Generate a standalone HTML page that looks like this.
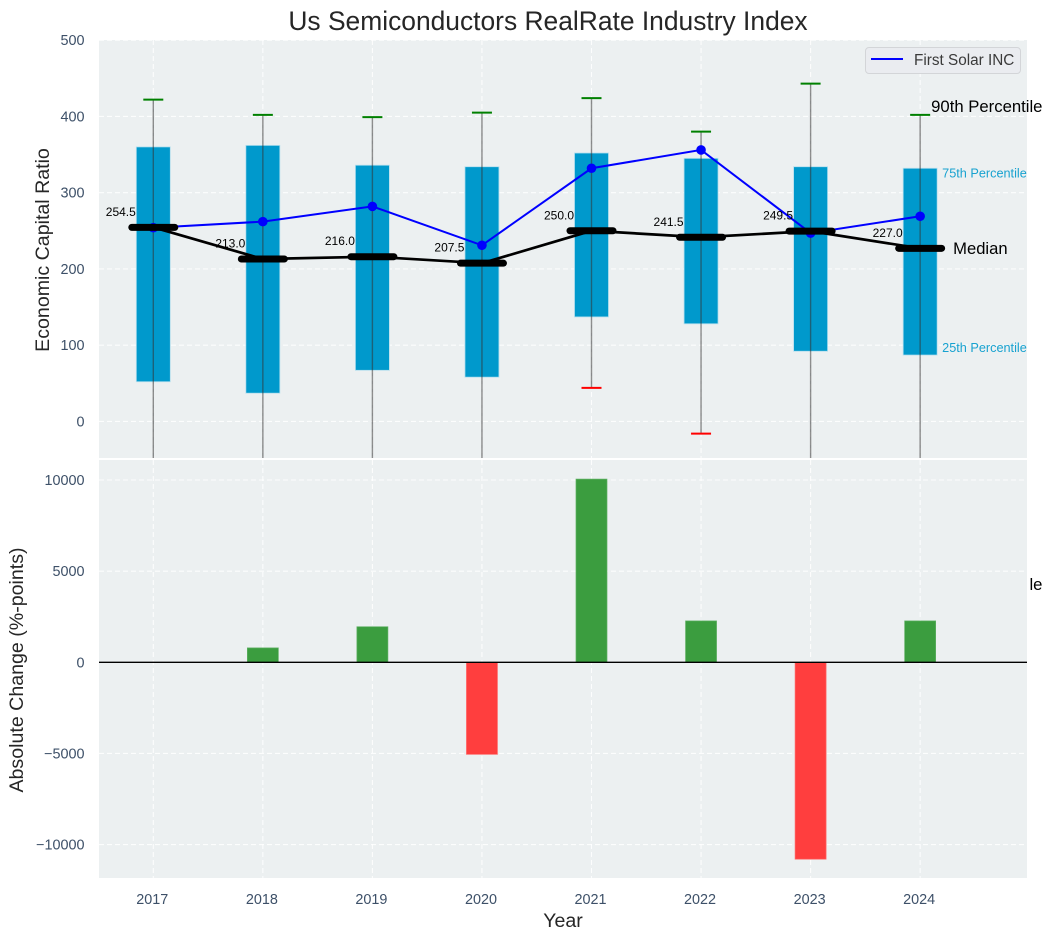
<!DOCTYPE html>
<html lang="en">
<head>
<meta charset="utf-8">
<title>Us Semiconductors RealRate Industry Index</title>
<style>
html,body{margin:0;padding:0;background:#fff;}
svg{display:block;font-family:"Liberation Sans",Arial,sans-serif;}
</style>
</head>
<body>
<svg id="chart" xmlns="http://www.w3.org/2000/svg" width="1051" height="940" viewBox="0 0 1051 940">
  <defs>
    <clipPath id="clip-top"><rect x="99" y="40" width="928" height="418"/></clipPath>
    <clipPath id="clip-bottom"><rect x="99" y="460" width="928" height="418"/></clipPath>
    <clipPath id="clip-overflow"><rect x="1029" y="460" width="22" height="418"/></clipPath>
  </defs>
  <text x="548" y="30" font-size="26.4" fill="#262626" text-anchor="middle">Us Semiconductors RealRate Industry Index</text>
  <rect x="99" y="40" width="928" height="418" fill="#ecf0f1"/>
  <g id="top-grid" clip-path="url(#clip-top)"></g>
  <g id="top-marks" clip-path="url(#clip-top)"></g>
  <g id="top-labels"></g>
  <rect x="99" y="460" width="928" height="418" fill="#ecf0f1"/>
  <g id="bottom-grid" clip-path="url(#clip-bottom)"></g>
  <g id="bottom-marks" clip-path="url(#clip-bottom)"></g>
  <g id="ticks"></g>
  <text transform="translate(49,250) rotate(-90)" font-size="19.6" fill="#262626" text-anchor="middle">Economic Capital Ratio</text>
  <text transform="translate(23,670) rotate(-90)" font-size="19.6" fill="#262626" text-anchor="middle">Absolute Change (%-points)</text>
  <text x="563" y="927" font-size="19.6" fill="#262626" text-anchor="middle">Year</text>
  <g>
    <rect x="865.5" y="47.5" width="155" height="26" rx="3.5" fill="#eaecf0" stroke="#d3d5d8" stroke-width="1"/>
    <line x1="871" y1="59" x2="903" y2="59" stroke="#0000ff" stroke-width="2"/>
    <text x="914" y="65" font-size="15.3" fill="#3a3a3a">First Solar INC</text>
  </g>
</svg>
<script>
const years = [2017, 2018, 2019, 2020, 2021, 2022, 2023, 2024];
const p90 = [422, 402, 399, 405, 424, 380, 443, 402];
const p75 = [360, 362, 336, 334, 352, 345, 334, 332];
const median = [254.5, 213.0, 216.0, 207.5, 250.0, 241.5, 249.5, 227.0];
const p25 = [52, 37, 67, 58, 137, 128, 92, 87];
const p10 = [-120, -130, -110, -100, 44, -16, -140, -225];
const company = [254, 262, 282, 231, 332, 356, 247, 269];
const change = [0, 790, 1950, -5050, 10050, 2270, -10800, 2270];
const topTicks = [0, 100, 200, 300, 400, 500];
const bottomTicks = [-10000, -5000, 0, 5000, 10000];

const NS = 'http://www.w3.org/2000/svg';
const xScale = v => 153.3 + (v - 2017) * 109.55;
const yTop = v => 421.4 - v * 0.7625;
const yBottom = v => 662.3 - v * 0.01823;
const fmtTick = v => (v < 0 ? '\u2212' + Math.abs(v) : String(v));

function make(tag, attrs, parent, text) {
  const node = document.createElementNS(NS, tag);
  for (const k in attrs) node.setAttribute(k, attrs[k]);
  if (text !== undefined) node.textContent = text;
  parent.appendChild(node);
  return node;
}

const svgRoot = document.getElementById('chart');
const topGrid = document.getElementById('top-grid');
const bottomGrid = document.getElementById('bottom-grid');
const topMarks = document.getElementById('top-marks');
const topLabels = document.getElementById('top-labels');
const bottomMarks = document.getElementById('bottom-marks');
const ticks = document.getElementById('ticks');
const gridStyle = {stroke: '#ffffff', 'stroke-width': 1.1, 'stroke-dasharray': '5 3', 'stroke-opacity': 0.85};

topTicks.forEach(v => {
  const g = make('line', Object.assign({x1: 99, x2: 1027, y1: yTop(v), y2: yTop(v)}, gridStyle), topGrid);
  
  
  const t = make('text', {x: 84.5, y: yTop(v) + 5, 'font-size': 14.4, fill: '#3d5068', 'text-anchor': 'end'}, ticks, fmtTick(v));
  
  
});

bottomTicks.forEach(v => {
  const g = make('line', Object.assign({x1: 99, x2: 1027, y1: yBottom(v), y2: yBottom(v)}, gridStyle), bottomGrid);
  
  
  const t = make('text', {x: 84.5, y: yBottom(v) + 5, 'font-size': 14.4, fill: '#3d5068', 'text-anchor': 'end'}, ticks, fmtTick(v));
  
  
});

years.forEach(yr => {
  const x = xScale(yr);
  const g1 = make('line', Object.assign({x1: x, x2: x, y1: 40, y2: 458}, gridStyle), topGrid);
  
  
  const g2 = make('line', Object.assign({x1: x, x2: x, y1: 460, y2: 878}, gridStyle), bottomGrid);
  
  
  const t = make('text', {x: x - 1, y: 904, 'font-size': 14.4, fill: '#3d5068', 'text-anchor': 'middle'}, ticks, String(yr));
  
  
});

years.forEach((yr, i) => {
  const x = xScale(yr);
  const box = make('rect', {x: x - 17, y: yTop(p75[i]), width: 34, height: yTop(p25[i]) - yTop(p75[i]), fill: '#0099cc', stroke: '#b5dfee', 'stroke-width': 0.8}, topMarks);
  
  
  const whisker = make('line', {x1: x, x2: x, y1: yTop(p90[i]), y2: yTop(p10[i]), stroke: '#333333', 'stroke-opacity': 0.55, 'stroke-width': 1.4}, topMarks);
  
  
  const capHigh = make('line', {x1: x - 10, x2: x + 10, y1: yTop(p90[i]), y2: yTop(p90[i]), stroke: '#008000', 'stroke-width': 2}, topMarks);
  
  
  const capLow = make('line', {x1: x - 10, x2: x + 10, y1: yTop(p10[i]), y2: yTop(p10[i]), stroke: '#ff0000', 'stroke-width': 2}, topMarks);
  
  
});

const companyLine = make('polyline', {points: years.map((yr, i) => xScale(yr) + ',' + yTop(company[i])).join(' '), fill: 'none', stroke: '#0000ff', 'stroke-width': 2}, topMarks);


years.forEach((yr, i) => {
  const c = make('circle', {cx: xScale(yr), cy: yTop(company[i]), r: 4.8, fill: '#0000ff'}, topMarks);
  
  
});

const medianLine = make('polyline', {points: years.map((yr, i) => xScale(yr) + ',' + yTop(median[i])).join(' '), fill: 'none', stroke: '#000000', 'stroke-width': 2.7}, topMarks);


years.forEach((yr, i) => {
  const x = xScale(yr);
  const m = make('line', {x1: x - 21.5, x2: x + 21.5, y1: yTop(median[i]), y2: yTop(median[i]), stroke: '#000000', 'stroke-width': 7, 'stroke-linecap': 'round'}, topMarks);
  
  
  const t = make('text', {x: x - 17.5, y: yTop(median[i]) - 11.5, 'font-size': 12, fill: '#000000', 'text-anchor': 'end'}, topLabels, median[i].toFixed(1));
  
  
});

const last = years.length - 1;
const lastX = xScale(years[last]);
const l90 = make('text', {x: lastX + 11, y: yTop(p90[last]) - 3, 'font-size': 16.7, fill: '#000000'}, topLabels, '90th Percentile');


const l75 = make('text', {x: lastX + 22, y: yTop(p75[last]) + 9, 'font-size': 12.7, fill: '#0099cc', 'fill-opacity': 0.9}, topLabels, '75th Percentile');


const l25 = make('text', {x: lastX + 22, y: yTop(p25[last]) - 3, 'font-size': 12.7, fill: '#0099cc', 'fill-opacity': 0.9}, topLabels, '25th Percentile');


const lMed = make('text', {x: lastX + 33, y: yTop(median[last]) + 5.5, 'font-size': 16.6, fill: '#000000'}, topLabels, 'Median');


const l10 = make('text', {x: lastX + 11, y: yTop(p10[last]) - 3, 'font-size': 16.7, fill: '#000000', 'clip-path': 'url(#clip-overflow)'}, svgRoot, '10th Percentile');



years.forEach((yr, i) => {
  const v = change[i];
  if (v === 0) return;
  const y0 = yBottom(0), y1 = yBottom(v);
  const b = make('rect', {x: xScale(yr) - 15.5, y: Math.min(y0, y1), width: 31, height: Math.abs(y1 - y0), fill: v >= 0 ? '#3b9d3f' : '#ff3e3e', stroke: v >= 0 ? '#5fb063' : '#ff6a6a', 'stroke-width': 0.7}, bottomMarks);
  
  
});

const zero = make('line', {x1: 99, x2: 1027, y1: yBottom(0), y2: yBottom(0), stroke: '#000000', 'stroke-width': 1.3}, bottomMarks);


</script>
</body>
</html>
